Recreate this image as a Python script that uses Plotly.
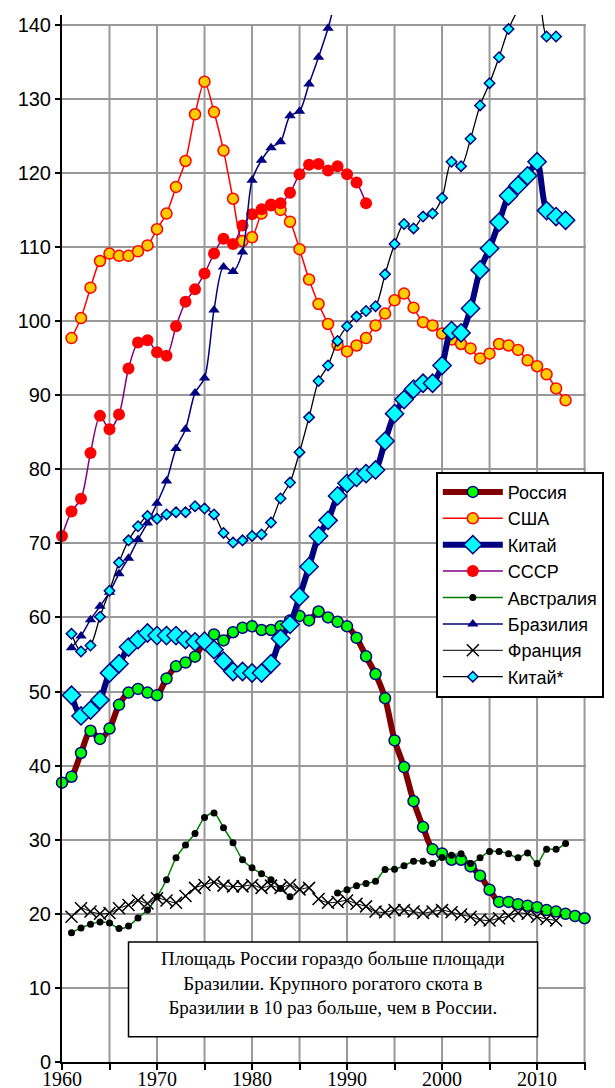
import plotly.graph_objects as go

# ---------------- data ----------------
years_russia = list(range(1960, 2016))
russia = [37.7, 38.5, 41.7, 44.7, 43.6, 45.0, 48.2, 49.85, 50.35, 49.85,
          49.5, 51.75, 53.4, 53.9, 54.7, 56.8, 57.7, 56.9, 58.0, 58.6,
          58.8, 58.3, 58.3, 58.8, 59.6, 60.2, 59.6, 60.8, 60.0, 59.4,
          58.8, 57.25, 54.75, 52.35, 49.1, 43.4, 39.8, 35.2, 31.7, 28.7,
          28.15, 27.3, 27.3, 26.4, 25.15, 23.25, 21.6, 21.6, 21.3, 21.1,
          20.9, 20.5, 20.3, 20.0, 19.7, 19.4]

years_usa = list(range(1961, 2014))
usa = [97.7, 100.4, 104.5, 108.1, 109.1, 108.8, 108.8, 109.4, 110.2, 112.4,
       114.5, 118.1, 121.6, 127.9, 132.3, 128.2, 123.0, 116.5, 110.8, 111.3,
       114.5, 115.7, 115.0, 113.4, 109.7, 105.6, 102.3, 99.6, 96.8, 95.9,
       96.7, 97.7, 99.4, 101.0, 102.8, 103.7, 101.8, 99.85, 99.4, 98.3,
       97.5, 96.9, 96.3, 94.95, 95.6, 96.9, 96.7, 96.1, 94.7, 93.9,
       92.8, 90.9, 89.3]

years_china = list(range(1961, 2014))
china = [49.5, 46.7, 47.5, 48.85, 52.5, 53.75, 56.0, 57.0, 57.9, 57.55,
         57.55, 57.55, 57.0, 56.7, 56.8, 55.65, 54.1, 52.7, 52.7, 52.5,
         52.5, 53.75, 57.15, 59.05, 62.8, 66.85, 71.0, 73.1, 76.4, 78.1,
         78.9, 79.4, 79.9, 83.8, 87.5, 89.4, 90.8, 91.6, 91.6, 94.0,
         98.7, 98.4, 101.7, 106.9, 109.8, 113.35, 116.9, 118.3, 119.6, 121.5,
         114.9, 114.1, 113.6]

years_ussr = list(range(1960, 1993))
ussr = [71.0, 74.3, 76.0, 82.2, 87.2, 85.4, 87.4, 93.6, 97.1, 97.4,
        95.8, 95.3, 99.3, 102.6, 104.3, 106.4, 109.1, 111.1, 110.4, 112.9,
        114.4, 115.1, 115.6, 115.9, 117.3, 119.8, 121.1, 121.2, 120.3, 120.9,
        119.8, 118.7, 115.9]

years_australia = list(range(1961, 2014))
australia = [17.45, 18.1, 18.6, 18.9, 18.75, 18.0, 18.35, 19.45, 20.5, 22.3,
             24.6, 27.55, 29.3, 30.85, 33.0, 33.6, 31.6, 29.6, 27.3, 26.2,
             25.4, 24.6, 23.4, 22.3, None, None, None, None, 22.8, 23.25,
             23.8, 24.1, 24.4, 25.97, 26.0, 26.5, 27.1, 27.1, 26.8, 27.6,
             27.9, 28.1, 26.8, 27.55, 28.4, 28.4, 28.1, 27.55, 28.2, 26.8,
             28.7, 28.7, 29.5]

years_brazil = list(range(1961, 2014))
brazil = [55.9, 57.5, 59.7, 61.5, 63.4, 65.9, 68.0, 70.5, 72.75, 75.4,
          78.4, 82.8, 85.4, 90.3, 92.3, 101.5, 107.3, 106.7, 109.3, 119.0,
          121.7, 123.4, 124.2, 127.7, 128.3, 132.0, 135.6, 139.5, 144.2, 147.1,
          152.1, 154.2, 155.1, 158.2, 161.2, 158.3, 161.4, 163.2, 164.6, 169.9,
          176.4, 185.3, 195.6, 204.5, 207.2, 205.9, 199.8, 202.3, 205.3, 209.5,
          212.8, 211.3, 211.8]

years_france = list(range(1961, 2013))
france = [19.6, 20.75, 20.3, 20.0, 20.1, 20.75, 21.2, 21.8, 21.4, 22.1,
          21.8, 21.5, 22.4, 23.5, 23.9, 24.25, 23.8, 23.7, 23.7, 23.9,
          23.5, 23.8, 23.5, 23.9, 23.3, 23.5, 22.0, 21.5, 21.6, 21.8,
          21.35, 21.0, 20.3, 20.2, 20.5, 20.5, 20.3, 20.1, 20.3, 20.5,
          20.2, 19.9, 19.6, 19.2, 19.1, 19.4, 19.7, 20.1, 20.0, 19.6,
          19.3, 19.1]

years_china2 = list(range(1961, 2013))
china2 = [57.8, 55.4, 56.2, 60.1, 63.6, 67.4, 70.4, 72.3, 73.7, 73.3,
          73.9, 74.2, 74.2, 75.0, 74.7, 73.9, 71.4, 70.1, 70.4, 71.0,
          71.2, 72.8, 76.05, 78.2, 82.3, 87.0, 91.9, 94.0, 97.3, 99.3,
          100.6, 101.35, 102.0, 106.3, 110.4, 113.1, 112.5, 114.1, 114.5, 116.6,
          121.5, 120.9, 124.6, 129.1, 132.1, 135.6, 139.4, 142.0, 144.0, 145.5,
          138.4, 138.4]

x_tickvals = list(range(1960, 2016, 5))
x_ticktext = ["1960", "", "1970", "", "1980", "", "1990", "", "2000", "", "2010", ""]
y_tickvals = list(range(0, 150, 10))

note_text = ("Площадь России гораздо больше площади<br>"
             "Бразилии. Крупного рогатого скота в<br>"
             "Бразилии в 10 раз больше, чем в России.")

# ---------------- figure ----------------
fig = go.Figure()

def add(x, y, name, lcolor, lwidth, symbol, msize, mfill, mline_color, mline_w):
    fig.add_trace(go.Scatter(
        x=x, y=y, name=name, mode="lines+markers",
        line=dict(color=lcolor, width=lwidth, shape="spline", smoothing=0.8),
        marker=dict(symbol=symbol, size=msize, color=mfill,
                    line=dict(color=mline_color, width=mline_w)),
        connectgaps=False, cliponaxis=False, hoverinfo="x+y+name"))

add(years_russia, russia, "Россия", "#800000", 6, "circle", 11, "#00FF00", "#000080", 1.5)
add(years_usa, usa, "США", "#FF0000", 1.5, "circle", 11, "#FFCC00", "#FF0000", 1.5)
add(years_china, china, "Китай", "#000080", 6, "diamond", 14, "#00FFFF", "#000080", 1.5)
add(years_ussr, ussr, "СССР", "#800080", 1.5, "circle", 12, "#FF0000", "#FF0000", 0)
add(years_australia, australia, "Австралия", "#008000", 1.5, "circle", 7, "#000000", "#000000", 0)
add(years_brazil, brazil, "Бразилия", "#000080", 1.5, "triangle-up", 10, "#000080", "#000080", 0)
add(years_france, france, "Франция", "#000000", 1, "x-thin", 12, "#000000", "#000000", 1.5)
add(years_china2, china2, "Китай*", "#000000", 1.3, "diamond", 8, "#00FFFF", "#000080", 1.5)

shapes = []
# vertical gridlines (stop at 140)
for xv in range(1965, 2016, 5):
    shapes.append(dict(type="line", xref="x", yref="y", x0=xv, x1=xv, y0=0, y1=140,
                       line=dict(color="#999999", width=2), layer="below"))
# note box
shapes.append(dict(type="rect", xref="x", yref="y", x0=1967.0, x1=2010.05, y0=3.4, y1=16.2,
                   line=dict(color="#000000", width=1.5), fillcolor="#FFFFFF", layer="above"))

# page body has an 8px margin, so the figure is 8px smaller and offset
fig.update_layout(
    width=607, height=1080, autosize=False,
    margin=dict(l=54.3, r=29.3, t=7, b=25.7, autoexpand=False),
    paper_bgcolor="white", plot_bgcolor="white",
    font=dict(family="Liberation Sans, Arial, sans-serif", color="#000000"),
    showlegend=True,
    legend=dict(x=0.7134, y=0.5638, xanchor="left", yanchor="top",
                bgcolor="white", bordercolor="#000000", borderwidth=2,
                font=dict(family="Liberation Sans, Arial, sans-serif", size=18, color="#000000"),
                itemwidth=60, tracegroupgap=0),
    shapes=shapes,
    annotations=[dict(xref="x", yref="y", x=1988.5, y=10.65, text=note_text, showarrow=False,
                      align="center", xanchor="center", yanchor="middle",
                      font=dict(family="Liberation Serif, Times New Roman, serif", size=19, color="#000000"))],
    xaxis=dict(range=[1960, 2015.15], tickvals=x_tickvals, ticktext=x_ticktext,
               showgrid=False, zeroline=False, showline=True, linecolor="#000000", linewidth=2,
               ticks="outside", ticklen=6, tickwidth=2, tickcolor="#000000",
               ticklabelstandoff=-8,
               tickfont=dict(family="Liberation Serif, Times New Roman, serif", size=20, color="#000000")),
    yaxis=dict(range=[0, 141.3], tickvals=y_tickvals,
               showgrid=True, gridcolor="#999999", gridwidth=2, zeroline=False,
               showline=True, linecolor="#000000", linewidth=2,
               ticks="outside", ticklen=5, tickwidth=2, tickcolor="#000000",
               tickfont=dict(family="Liberation Sans, Arial, sans-serif", size=20, color="#000000")),
)

fig.write_html("out.html")
